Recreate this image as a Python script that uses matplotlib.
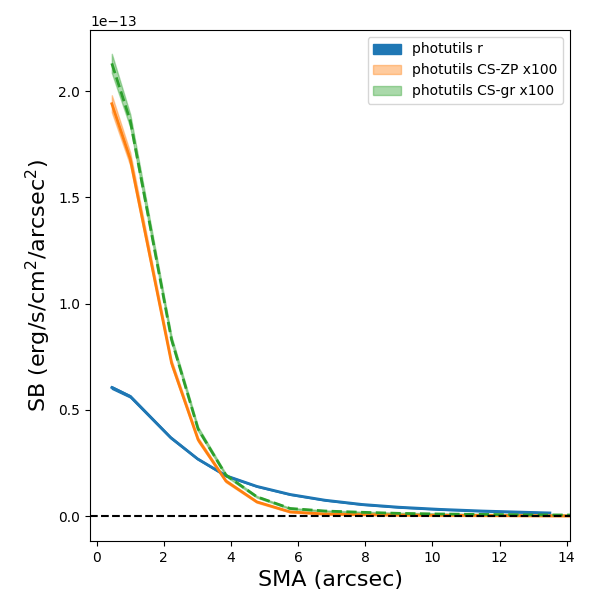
import matplotlib
matplotlib.use("Agg")
import matplotlib.pyplot as plt
import numpy as np

# SMA grid (arcsec)
sma_r = [0.45, 1.0, 2.2, 3.0, 3.85, 4.77, 5.76, 6.8, 7.9, 9.0, 10.2, 11.5, 12.8, 13.5]
sb_r = [0.605, 0.563, 0.37, 0.27, 0.19, 0.14, 0.102, 0.075, 0.055, 0.042, 0.032, 0.024, 0.018, 0.015]
err_r = [0.006, 0.005, 0.004, 0.003, 0.003, 0.002, 0.002, 0.002, 0.002, 0.002, 0.002, 0.002, 0.002, 0.002]

sma_cs = [0.45, 1.0, 2.23, 3.02, 3.85, 4.77, 5.76, 6.8, 7.9, 9.0, 10.2, 11.5, 12.8, 14.3]
sb_zp = [1.94, 1.68, 0.72, 0.36, 0.165, 0.067, 0.02, 0.01, 0.007, 0.005, 0.004, 0.003, 0.002, 0.001]
err_zp = [0.04, 0.03, 0.015, 0.01, 0.006, 0.004, 0.003, 0.003, 0.003, 0.003, 0.003, 0.003, 0.003, 0.003]
sb_gr = [2.13, 1.86, 0.83, 0.41, 0.193, 0.091, 0.036, 0.024, 0.018, 0.013, 0.01, 0.008, 0.006, 0.005]
err_gr = [0.045, 0.03, 0.015, 0.01, 0.006, 0.004, 0.003, 0.003, 0.003, 0.003, 0.003, 0.003, 0.003, 0.003]

scale = 1e-13
sma_r = np.array(sma_r)
sma_cs = np.array(sma_cs)
sb_r = np.array(sb_r) * scale
err_r = np.array(err_r) * scale
sb_zp = np.array(sb_zp) * scale
err_zp = np.array(err_zp) * scale
sb_gr = np.array(sb_gr) * scale
err_gr = np.array(err_gr) * scale

fig = plt.figure(figsize=(6, 6), dpi=100)
ax = fig.add_axes([0.15, 0.098, 0.80, 0.852])

ax.fill_between(sma_r, sb_r - err_r, sb_r + err_r, color='C0', alpha=1.0, label='photutils r')
ax.plot(sma_r, sb_r, '-', color='C0', lw=2)

ax.fill_between(sma_cs, sb_zp - err_zp, sb_zp + err_zp, color='C1', alpha=0.4, label='photutils CS-ZP x100')
ax.plot(sma_cs, sb_zp, '-', color='C1', lw=2)

ax.fill_between(sma_cs, sb_gr - err_gr, sb_gr + err_gr, color='C2', alpha=0.4, label='photutils CS-gr x100')
ax.plot(sma_cs, sb_gr, '--', color='C2', lw=2)

ax.axhline(0, color='k', ls='--', lw=1.5)

ax.set_xlim(-0.2, 14.1)
ax.set_ylim(-0.118e-13, 2.287e-13)
ax.set_xlabel('SMA (arcsec)', fontsize=16)
ax.set_ylabel('SB (erg/s/cm$^2$/arcsec$^2$)', fontsize=16)
ax.legend(loc='upper right')

fig.savefig('out.png', dpi=100)
